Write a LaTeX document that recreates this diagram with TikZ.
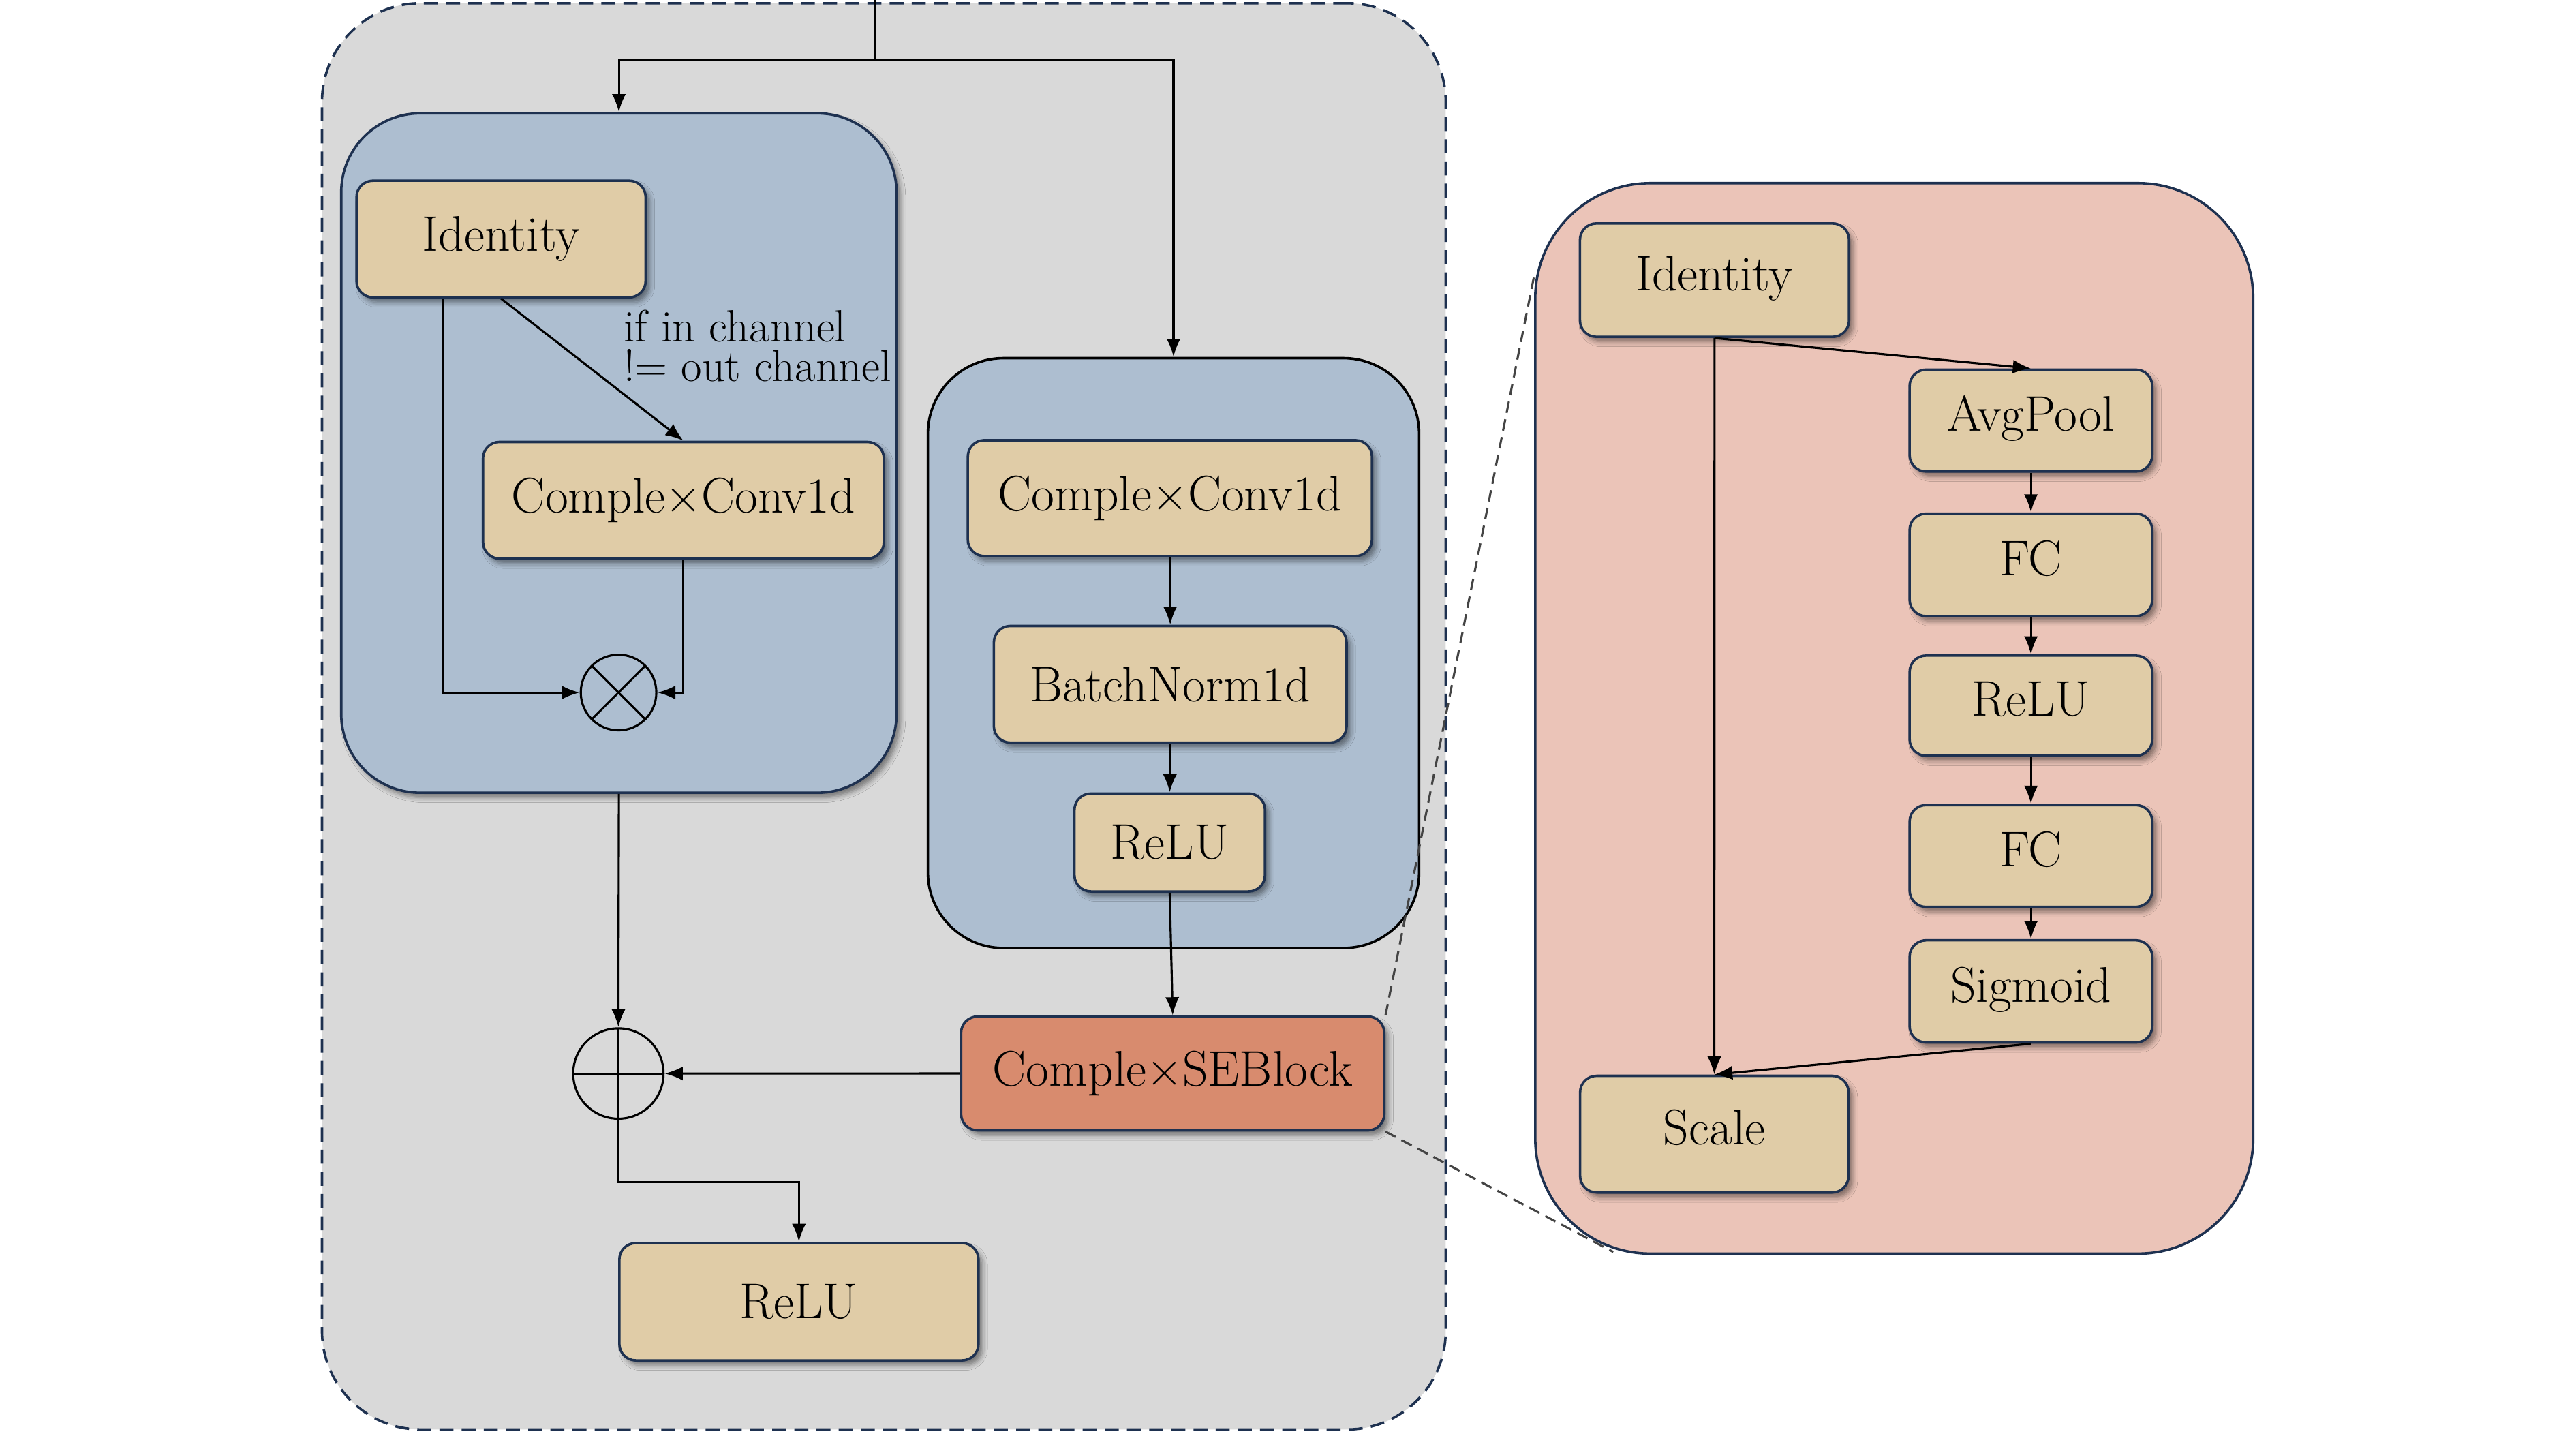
\documentclass[tikz,border=0pt]{standalone}
\usepackage{fontspec}
\usetikzlibrary{arrows.meta,shadows.blur}
\definecolor{bggray}{HTML}{D9D9D9}
\definecolor{blueblk}{HTML}{ADBED0}
\definecolor{tanbox}{HTML}{E0CCA7}
\definecolor{pinkblk}{HTML}{EBC4B8}
\definecolor{seorange}{HTML}{D88B6E}
\definecolor{navy}{HTML}{1E3150}
\definecolor{zoomgray}{HTML}{444444}
\tikzset{
  boxshadow/.style={blur shadow={shadow xshift=2.5pt,shadow yshift=-3pt,shadow blur radius=3pt,shadow opacity=45}},
  opbox/.style={draw=navy, line width=1.5pt, fill=tanbox, rounded corners=10pt, inner sep=0pt,
    font=\fontsize{30.5}{36}\selectfont, boxshadow},
  sebox/.style={opbox, text depth=8.5pt},
  conn/.style={line width=1.3pt, draw=black, -{Latex[length=11pt,width=8.5pt]}},
  plainline/.style={line width=1.3pt, draw=black},
  zoomline/.style={line width=1.3pt, draw=zoomgray, dash pattern=on 7pt off 4pt},
  opcircle/.style={circle, draw=black, line width=1.3pt, inner sep=0pt},
  lbl/.style={font=\fontsize{27.5}{24}\selectfont, align=left, inner sep=0pt}
}
\begin{document}
\begin{tikzpicture}[x=1pt,y=-1pt]
\useasboundingbox (0,0) rectangle (1568,874);

% outer dashed container
\node[draw=navy, fill=bggray, line width=1.5pt, dash pattern=on 8.5pt off 5pt, rounded corners=60pt,
      minimum width=684pt, minimum height=868pt, inner sep=0pt] (outer) at (538,436) {};

% left residual block
\node[draw=navy, fill=blueblk, line width=1.5pt, rounded corners=48pt, boxshadow,
      minimum width=338pt, minimum height=413.5pt, inner sep=0pt] (leftblk) at (376.7,275.75) {};
% right conv block
\node[draw=black, fill=blueblk, line width=1.5pt, rounded corners=46pt,
      minimum width=299pt, minimum height=359pt, inner sep=0pt] (rightblk) at (714.3,397.5) {};
% SE panel
\node[draw=navy, fill=pinkblk, line width=1.5pt, rounded corners=70pt,
      minimum width=437pt, minimum height=651.5pt, inner sep=0pt] (pink) at (1153,437.25) {};

% left block contents
\node[opbox, minimum width=176pt, minimum height=71pt] (idL) at (305,145.5) {Identity};
\node[opbox, minimum width=244pt, minimum height=71pt] (convL) at (416,304.5) {Comple×Conv1d};
\node[opcircle, minimum size=46pt,
  path picture={\draw[line width=1.3pt] (path picture bounding box.north west) -- (path picture bounding box.south east)
     (path picture bounding box.north east) -- (path picture bounding box.south west);}] (otimes) at (376.5,421.5) {};
\node[lbl, anchor=north west] (cond) at (379.5,188.5) {if in channel\\!= out channel};

% right block contents
\node[opbox, minimum width=246pt, minimum height=70.5pt] (convR) at (712.1,303.2) {Comple×Conv1d};
\node[opbox, minimum width=214.7pt, minimum height=71pt] (bnR) at (712.3,416.5) {BatchNorm1d};
\node[opbox, minimum width=116pt, minimum height=59.6pt] (reluR) at (712,512.8) {ReLU};

% SE block, sum, output relu
\node[opbox, fill=seorange, minimum width=257.6pt, minimum height=69.3pt] (se) at (713.8,653.35) {Comple×SEBlock};
\node[opcircle, minimum size=55pt,
  path picture={\draw[line width=1.3pt] (path picture bounding box.north) -- (path picture bounding box.south)
     (path picture bounding box.west) -- (path picture bounding box.east);}] (oplus) at (376.4,653.4) {};
\node[opbox, minimum width=218.6pt, minimum height=71.4pt] (reluOut) at (486.3,792.3) {ReLU};

% SE panel contents
\node[sebox, minimum width=163.8pt, minimum height=69pt] (idR) at (1043.6,170.5) {Identity};
\node[sebox, minimum width=147.7pt, minimum height=62pt] (avg) at (1236.2,256) {AvgPool};
\node[sebox, minimum width=147.7pt, minimum height=62.4pt] (fc1) at (1236.2,343.8) {FC};
\node[sebox, minimum width=147.7pt, minimum height=61pt] (relu2) at (1236.2,429.5) {ReLU};
\node[sebox, minimum width=147.7pt, minimum height=62pt] (fc2) at (1236.2,521) {FC};
\node[sebox, minimum width=147.7pt, minimum height=62.2pt] (sig) at (1236.2,603.4) {Sigmoid};
\node[sebox, minimum width=163.4pt, minimum height=71pt] (scale) at (1043.5,690.3) {Scale};

% input split
\coordinate (in) at (532.5,0);
\coordinate (split) at (532.5,36.8);
\draw[plainline] (in) -- (split);
\draw[conn] (split) -| (leftblk.north);
\draw[conn] (split) -| (rightblk.north);

% left block connectors
\draw[conn] (idL.south) ++(-35,0) |- (otimes.west);
\draw[conn] (idL.south) -- (convL.north);
\draw[conn] (convL.south) |- (otimes.east);

% right block connectors
\draw[conn] (convR.south) -- (bnR.north);
\draw[conn] (bnR.south) -- (reluR.north);
\draw[conn] (reluR.south) -- (se.north);

% merge
\draw[conn] (leftblk.south) -- (oplus.north);
\draw[conn] (se.west) -- (oplus.east);
\draw[conn] (oplus.south) -- ++(0,38) -| (reluOut.north);

% SE panel connectors
\draw[conn] (idR.south) -- (avg.north);
\draw[conn] (avg.south) -- (fc1.north);
\draw[conn] (fc1.south) -- (relu2.north);
\draw[conn] (relu2.south) -- (fc2.north);
\draw[conn] (fc2.south) -- (sig.north);
\draw[conn] (sig.south) -- (scale.north);
\draw[conn] (idR.south) -- (scale.north);

% zoom lines
\coordinate (zt) at (934,167);
\coordinate (zb) at (982,762);
\draw[zoomline] (se.north east) -- (zt);
\draw[zoomline] (se.south east) -- (zb);
\end{tikzpicture}
\end{document}
